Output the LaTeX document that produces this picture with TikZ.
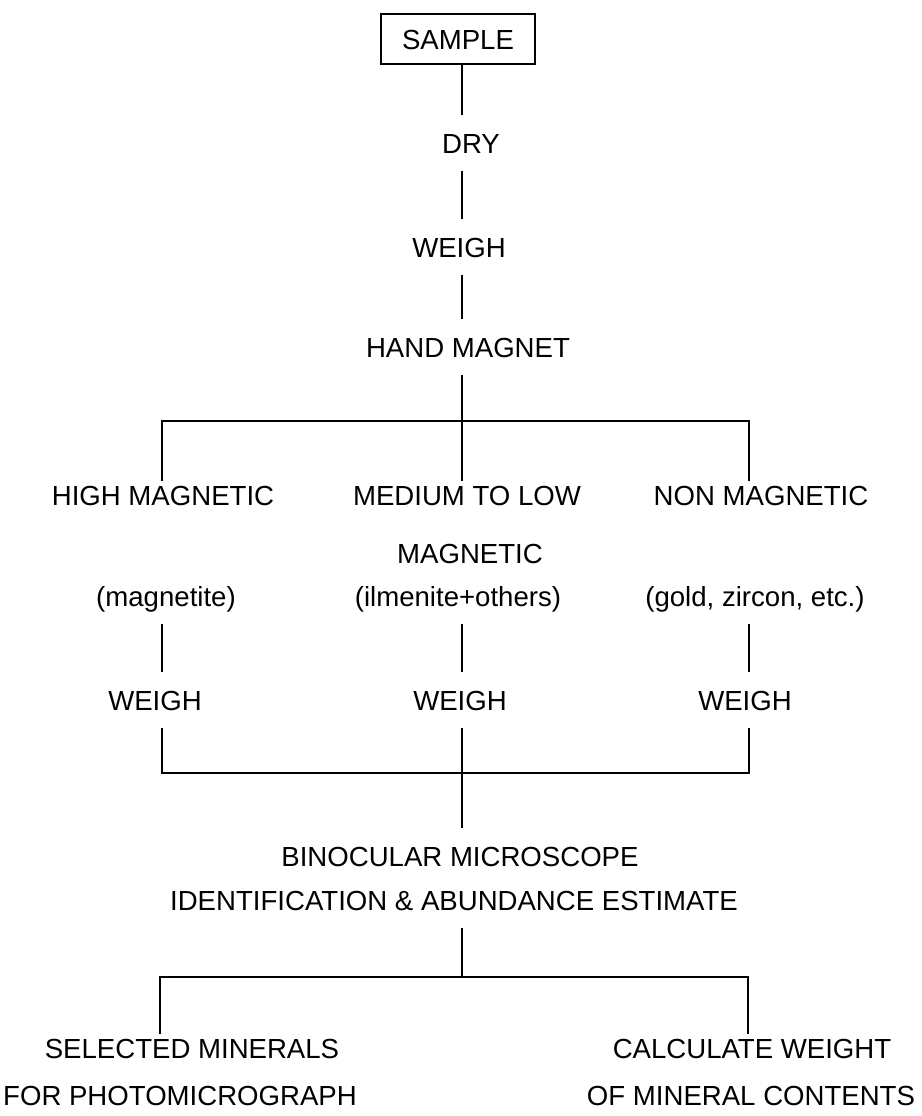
\documentclass[tikz,border=0pt]{standalone}
\usepackage{fontspec}
\setmainfont{Liberation Sans}
\usetikzlibrary{calc}

\tikzset{
  lbl/.style={inner xsep=0pt, inner ysep=1.7mm, text height=2mm, text depth=0mm,
              font=\fontsize{7.85}{9}\selectfont},
  tight/.style={lbl, inner ysep=0.3mm},
  box/.style={lbl, draw, line width=0.6pt, inner ysep=0pt,
              minimum width=1.54cm, minimum height=0.50cm},
  wire/.style={line width=0.65pt},
}

\begin{document}
\begin{tikzpicture}
 \useasboundingbox (0,0) rectangle (9.22,-11.16);

 % columns
  \coordinate (axM) at (4.62, 0.00);
  \coordinate (axL) at (1.62, 0.00);
  \coordinate (axR) at (7.49, 0.00);
  \coordinate (axLb) at (1.60, 0.00);
  \coordinate (axRb) at (7.48, 0.00);

 % top chain
  \node[box] (sample) at (4.58, -0.39) {SAMPLE};
  \node[lbl] (dry) at (4.71, -1.43) {DRY};
  \node[lbl] (weigh) at (4.59, -2.47) {WEIGH};
  \node[lbl] (hand) at (4.68, -3.47) {HAND MAGNET};
  \draw[wire] (sample.south -| axM) -- (dry.north -| axM);
  \draw[wire] (dry.south -| axM) -- (weigh.north -| axM);
  \draw[wire] (weigh.south -| axM) -- (hand.north -| axM);

 %magnet split
  \coordinate (split) at (4.62, -4.21);
  \node[tight] (high) at (1.63, -4.95) {HIGH MAGNETIC};
  \node[tight] (med) at (4.67, -4.95) {MEDIUM TO LOW};
  \node[tight] (non) at (7.61, -4.95) {NON MAGNETIC};
  \node[lbl] (med2) at (4.70, -5.53) {MAGNETIC};
  \draw[wire] (hand.south -| axM) -- (med.north -| axM);
  \draw[wire] (high.north -| axL) -- (axL |- split) -- (axR |- split) -- (non.north -| axR);

 %fractions
  \node[lbl] (magn) at (1.66, -5.96) {(magnetite)};
  \node[lbl] (ilm) at (4.58, -5.96) {(ilmenite+others)};
  \node[lbl] (gold) at (7.55, -5.96) {(gold, zircon, etc.)};
  \node[lbl] (wL) at (1.55, -7.00) {WEIGH};
  \node[lbl] (wM) at (4.60, -7.00) {WEIGH};
  \node[lbl] (wR) at (7.45, -7.00) {WEIGH};
  \draw[wire] (magn.south -| axL) -- (wL.north -| axL);
  \draw[wire] (ilm.south -| axM) -- (wM.north -| axM);
  \draw[wire] (gold.south -| axR) -- (wR.north -| axR);

 %merge
  \coordinate (merge) at (4.62, -7.73);
  \node[lbl] (binoc) at (4.60, -8.56) {BINOCULAR MICROSCOPE};
  \node[lbl] (ident) at (4.54, -9.00) {IDENTIFICATION \& ABUNDANCE ESTIMATE};
  \draw[wire] (wL.south -| axL) -- (axL |- merge) -- (axR |- merge) -- (wR.south -| axR);
  \draw[wire] (wM.south -| axM) -- (binoc.north -| axM);

 %final split
  \coordinate (split2) at (4.62, -9.77);
  \node[tight] (sel) at (1.92, -10.48) {SELECTED MINERALS};
  \node[lbl] (photo) at (1.80, -10.95) {FOR PHOTOMICROGRAPH};
  \node[tight] (calc) at (7.52, -10.48) {CALCULATE WEIGHT};
  \node[lbl] (cont) at (7.51, -10.95) {OF MINERAL CONTENTS};
  \draw[wire] (ident.south -| axM) -- (axM |- split2);
  \draw[wire] (sel.north -| axLb) -- (axLb |- split2) -- (axRb |- split2) -- (calc.north -| axRb);
\end{tikzpicture}
\end{document}
